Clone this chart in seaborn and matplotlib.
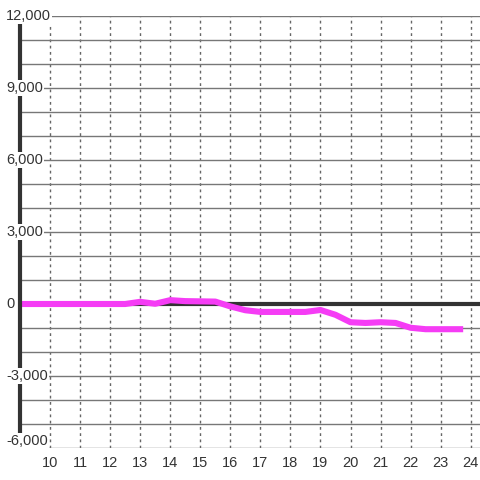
import matplotlib
matplotlib.use("Agg")
import matplotlib.pyplot as plt
import matplotlib.transforms as mtransforms
import seaborn as sns
import pandas as pd

# ─── Data ────────────────────────────────────────────────────────────────────
hours = [9.0, 9.5, 10.0, 10.5, 11.0, 11.5, 12.0, 12.5, 13.0, 13.5,
         14.0, 14.5, 15.0, 15.5, 16.0, 16.5, 17.0, 17.5, 18.0, 18.5,
         19.0, 19.5, 20.0, 20.5, 21.0, 21.5, 22.0, 22.5, 23.0, 23.5, 23.75]
values = [0, 0, 0, 0, 0, 0, 0, 0, 90, 10,
          160, 120, 110, 100, -100, -260, -330, -330, -330, -330,
          -250, -450, -760, -790, -760, -790, -990, -1050, -1050, -1050, -1050]

x_ticks = list(range(10, 25))
y_label_ticks = [12000, 9000, 6000, 3000, 0, -3000, -6000]
y_grid = list(range(-6000, 13000, 1000))

LINE_COLOR = "#f53cf5"
TEXT_COLOR = "#333333"

df = pd.DataFrame({"hour": hours, "value": values})

# ─── Plot ────────────────────────────────────────────────────────────────────
sns.set_style("white")
plt.rcParams["font.family"] = ["Liberation Sans", "DejaVu Sans"]

fig = plt.figure(figsize=(4.8, 4.8), dpi=100)
ax = fig.add_axes([20 / 480, 1 - 448 / 480, 460 / 480, 432 / 480])

ax.set_xlim(9.0, 24.31)
ax.set_ylim(-6000, 12000)

# grid
ax.set_yticks(y_grid)
ax.set_xticks(x_ticks)
ax.grid(axis="y", color="#777777", linewidth=1, linestyle="-")
ax.grid(axis="x", color="#666666", linewidth=1, linestyle=(0, (2, 2.5)))
ax.set_axisbelow(True)

ax.axhline(0, color="#333333", linewidth=3, zorder=1.5)

sns.lineplot(data=df, x="hour", y="value", color=LINE_COLOR, linewidth=4.4,
             ax=ax, zorder=2)
for ln in ax.lines[-1:]:
    ln.set_solid_joinstyle("round")
    ln.set_solid_capstyle("butt")

for s in ["top", "right", "bottom"]:
    ax.spines[s].set_visible(False)
ax.spines["left"].set_color("#333333")
ax.spines["left"].set_linewidth(3)
ax.spines["left"].set_bounds(-5500, 11700)
ax.spines["left"].set_zorder(2.5)

ax.set_xlabel("")
ax.set_ylabel("")
ax.tick_params(axis="both", length=0)
ax.tick_params(axis="x", labelsize=10.5, labelcolor=TEXT_COLOR, pad=6)
ax.set_yticklabels([])

# y labels: left aligned, white box over spine
trans = mtransforms.blended_transform_factory(ax.transAxes, ax.transData)
for v in y_label_ticks:
    va = "bottom" if v == y_label_ticks[-1] else "center"
    ax.text(-14 / 460, v, f"{v:,}".replace("-", "-"), transform=trans,
            ha="left", va=va, fontsize=10.5, color=TEXT_COLOR, zorder=5,
            clip_on=False,
            bbox=dict(facecolor="white", edgecolor="none", pad=0.8))

fig.savefig("out.png", dpi=100)
